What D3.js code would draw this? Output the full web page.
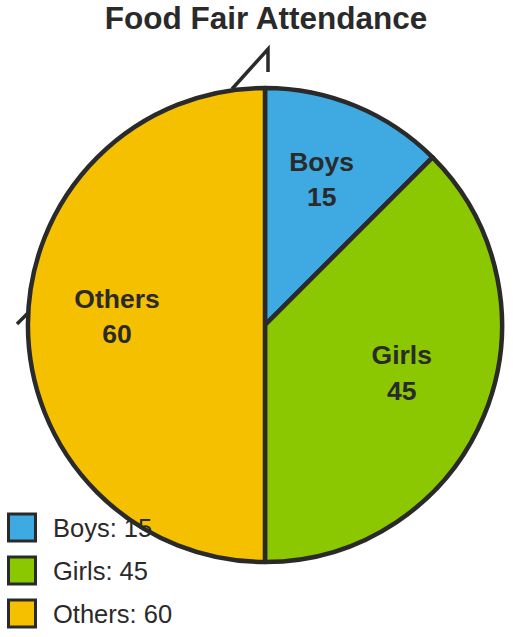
<!DOCTYPE html>
<html>
<head>
<meta charset="utf-8">
<script src="https://cdn.jsdelivr.net/npm/d3@7"></script>
<style>
  html, body { margin: 0; padding: 0; background: #fff; }
  svg { display: block; font-family: "Liberation Sans", Arial, Helvetica, sans-serif; }
</style>
</head>
<body>
<svg id="chart" width="513" height="637"></svg>
<script>
const categories = ["Boys", "Girls", "Others"];
const values = [15, 45, 60];
const colors = ["#3fa9e1", "#8cc802", "#f5c000"];
const title = "Food Fair Attendance";

const svg = d3.select("#chart");
const cx = 265, cy = 325, R = 237;
const ink = "#2a2a2a";

svg.append("text")
  .attr("x", 266).attr("y", 29)
  .attr("text-anchor", "middle")
  .attr("font-size", 31.5).attr("font-weight", "bold")
  .attr("fill", ink)
  .text(title);

// stray marks behind the pie
svg.append("path")
  .attr("d", "M232,89 L268,49 L268,72")
  .attr("fill", "none").attr("stroke", ink).attr("stroke-width", 3.5)
  .attr("stroke-linejoin", "miter");
svg.append("path")
  .attr("d", "M17,324 L32,309")
  .attr("fill", "none").attr("stroke", ink).attr("stroke-width", 3.5);

const data = categories.map((c, i) => ({ name: c, value: values[i], color: colors[i] }));
const pie = d3.pie().value(d => d.value).sort(null);
const arcs = pie(data);
const arc = d3.arc().innerRadius(0).outerRadius(R);
const labelArc = d3.arc().innerRadius(148).outerRadius(148);

const g = svg.append("g").attr("transform", `translate(${cx},${cy})`);
g.selectAll("path.slice").data(arcs).enter().append("path")
  .attr("class", "slice")
  .attr("d", arc)
  .attr("fill", d => d.data.color)
  .attr("stroke", ink).attr("stroke-width", 4.5)
  .attr("stroke-linejoin", "round");

const lbl = g.selectAll("text.lbl").data(arcs).enter().append("text")
  .attr("class", "lbl")
  .attr("transform", d => `translate(${labelArc.centroid(d)})`)
  .attr("text-anchor", "middle")
  .attr("font-size", 26.5).attr("font-weight", "bold")
  .attr("fill", ink);
lbl.append("tspan").attr("x", 0).attr("y", -17.5).text(d => d.data.name);
lbl.append("tspan").attr("x", 0).attr("y", 18).text(d => d.data.value);

// legend
const leg = svg.append("g");
const items = leg.selectAll("g").data(data).enter().append("g")
  .attr("transform", (d, i) => `translate(0,${i * 43})`);
items.append("rect")
  .attr("x", 8.5).attr("y", 514).attr("width", 27).attr("height", 27)
  .attr("fill", d => d.color).attr("stroke", ink).attr("stroke-width", 3);
items.append("text")
  .attr("x", 53).attr("y", 536.5)
  .attr("font-size", 25.5).attr("fill", ink)
  .text(d => `${d.name}: ${d.value}`);
</script>
</body>
</html>
